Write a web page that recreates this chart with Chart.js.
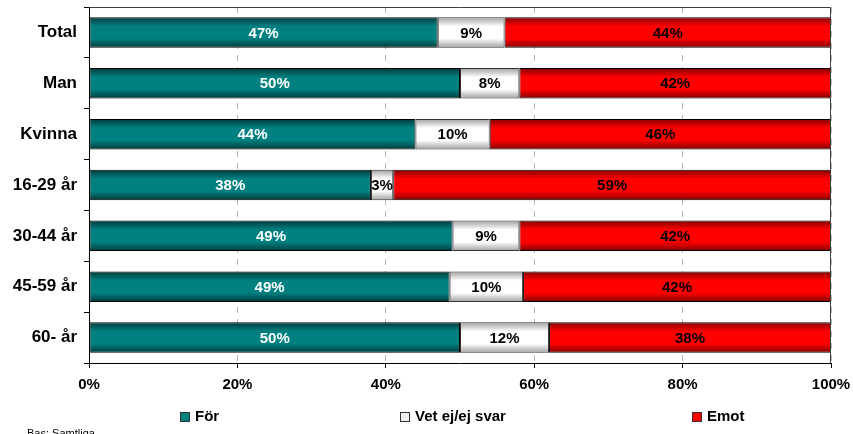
<!DOCTYPE html>
<html>
<head>
<meta charset="utf-8">
<script src="https://cdn.jsdelivr.net/npm/chart.js@4.4.0/dist/chart.umd.min.js"></script>
<style>
  body { margin: 0; background: #fff; }
  #wrap { width: 853px; height: 434px; }
</style>
</head>
<body>
<div id="wrap"><canvas id="surveyChart" width="853" height="434"></canvas></div>
<script>
// Data
var categories = ["Total", "Man", "Kvinna", "16-29 år", "30-44 år", "45-59 år", "60- år"];
var forValues = [47, 50, 44, 38, 49, 48.6, 50];
var vetValues = [9, 8, 10, 3, 9, 9.9, 12];
var emotValues = [44, 42, 46, 59, 42, 41.5, 38];
var seriesNames = ["För", "Vet ej/ej svar", "Emot"];
var xTicks = [0, 20, 40, 60, 80, 100];

Chart.defaults.font.family = '"Liberation Sans", Arial, sans-serif';
Chart.defaults.color = "#000";

// vertical shading for each bar (dark edges, lighter middle)
function shaded(base, edge) {
    return function (c) {
        var ca = c.chart.chartArea;
        if (!ca) return base;
        var g = c.chart.ctx.createLinearGradient(0, ca.top, 0, ca.bottom);
        var n = categories.length;
        for (var i = 0; i < n; i++) {
            var t = (i + 0.2) / n, b = (i + 0.8) / n, h = b - t;
            g.addColorStop(t, edge);
            g.addColorStop(t + h * 0.3, base);
            g.addColorStop(t + h * 0.7, base);
            g.addColorStop(b, edge);
        }
        return g;
    };
}

var labelColors = ["#fff", "#000", "#000"];

var valueLabels = {
    id: "valueLabels",
    afterDatasetsDraw: function (chart) {
        var ctx = chart.ctx;
        ctx.save();
        ctx.font = "bold 15px " + Chart.defaults.font.family;
        ctx.textAlign = "center";
        ctx.textBaseline = "middle";
        chart.data.datasets.forEach(function (ds, di) {
            chart.getDatasetMeta(di).data.forEach(function (bar, i) {
                ctx.fillStyle = labelColors[di];
                ctx.fillText(Math.round(ds.data[i]) + "%", (bar.x + bar.base) / 2, bar.y + 1);
            });
        });
        ctx.restore();
    }
};

var frameAndLegend = {
    id: "frameAndLegend",
    afterDraw: function (chart) {
        var ctx = chart.ctx, ca = chart.chartArea;
        ctx.save();
        // top and right frame of plot area
        ctx.strokeStyle = "#404040";
        ctx.lineWidth = 1;
        ctx.beginPath();
        ctx.moveTo(ca.left, ca.top + 0.5);
        ctx.lineTo(ca.right - 0.5, ca.top + 0.5);
        ctx.lineTo(ca.right - 0.5, ca.bottom);
        ctx.stroke();

        // legend
        var boxX = [180, 400, 692];
        var boxFill = ["#008080", "#f0f0f0", "#ff0000"];
        ctx.font = "bold 15px " + Chart.defaults.font.family;
        ctx.textBaseline = "middle";
        ctx.textAlign = "left";
        for (var i = 0; i < seriesNames.length; i++) {
            ctx.fillStyle = boxFill[i];
            ctx.fillRect(boxX[i] + 0.5, 412.5, 9, 9);
            ctx.strokeStyle = "#333";
            ctx.strokeRect(boxX[i] + 0.5, 412.5, 9, 9);
            ctx.fillStyle = "#000";
            ctx.fillText(seriesNames[i], boxX[i] + 15, 417);
        }

        // footnote (cut by the bottom edge)
        ctx.font = "11px " + Chart.defaults.font.family;
        ctx.textBaseline = "top";
        ctx.fillText("Bas: Samtliga", 27, 428);
        ctx.restore();
    }
};

function noEdgePadding(scale) {
    scale.paddingTop = 0;
    scale.paddingBottom = 0;
    scale.paddingLeft = 0;
    scale.paddingRight = 0;
}

var datasets = [
    { label: seriesNames[0], data: forValues, backgroundColor: shaded("#008080", "#003a3a"), borderColor: "#000" },
    { label: seriesNames[1], data: vetValues, backgroundColor: shaded("#ffffff", "#a0a0a0"), borderColor: "#333" },
    { label: seriesNames[2], data: emotValues, backgroundColor: shaded("#ff0000", "#800000"), borderColor: "#000" }
];
datasets.forEach(function (d) {
    d.borderWidth = 1;
    d.borderSkipped = false;
    d.barPercentage = 0.6;
    d.categoryPercentage = 1;
});

var ctx = document.getElementById("surveyChart").getContext("2d");

var surveyChart = new Chart(ctx, {
    type: "bar",
    data: { labels: categories, datasets: datasets },
    options: {
        indexAxis: "y",
        responsive: false,
        animation: false,
        layout: { padding: { top: 7, right: 22, left: 0, bottom: 0 } },
        plugins: {
            legend: { display: false },
            tooltip: { enabled: false }
        },
        scales: {
            x: {
                stacked: true,
                min: 0,
                max: 100,
                afterBuildTicks: function (scale) {
                    scale.ticks = xTicks.map(function (v) { return { value: v }; });
                },
                afterFit: function (scale) {
                    scale.height = 71;
                    noEdgePadding(scale);
                },
                ticks: {
                    font: { size: 15, weight: "bold" },
                    padding: 8,
                    callback: function (v) { return v + "%"; }
                },
                grid: {
                    color: "#b8b8b8",
                    tickColor: "#000",
                    tickLength: 5,
                    drawOnChartArea: true
                },
                border: { color: "#000", dash: [6, 6] }
            },
            y: {
                stacked: true,
                afterFit: function (scale) {
                    scale.width = 89;
                    noEdgePadding(scale);
                },
                ticks: {
                    font: { size: 17, weight: "bold" },
                    padding: 7
                },
                grid: {
                    offset: true,
                    drawOnChartArea: false,
                    tickColor: "#000",
                    tickLength: 5
                },
                border: { color: "#000" }
            }
        }
    },
    plugins: [valueLabels, frameAndLegend]
});
</script>
</body>
</html>
